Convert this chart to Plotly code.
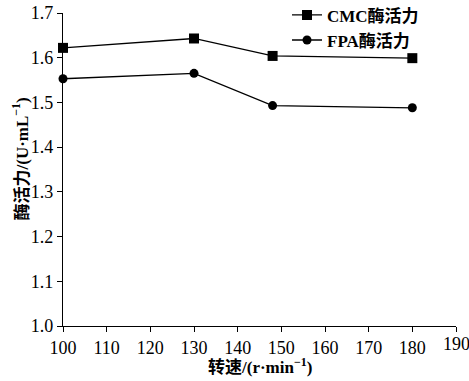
import plotly.graph_objects as go

speed = [100, 130, 148, 180]
cmc = [1.622, 1.643, 1.604, 1.599]
fpa = [1.553, 1.565, 1.493, 1.488]
series_names = ["CMC酶活力", "FPA酶活力"]
x_ticks = list(range(100, 191, 10))
x_tick_labels = [str(v) for v in x_ticks]
y_ticks = [1.0, 1.1, 1.2, 1.3, 1.4, 1.5, 1.6, 1.7]
x_title = "转速/(r·min<sup>−1</sup>)"
y_title = "酶活力/(U·mL<sup>−1</sup>)"

FONT = "Liberation Serif, Noto Sans CJK SC, serif"

fig = go.Figure()
fig.add_trace(go.Scatter(x=speed, y=cmc, name="<b>" + series_names[0] + "</b>", mode="lines+markers",
                         line=dict(color="black", width=1.3),
                         marker=dict(symbol="square", size=10, color="black"),
                         cliponaxis=False))
fig.add_trace(go.Scatter(x=speed, y=fpa, name="<b>" + series_names[1] + "</b>", mode="lines+markers",
                         line=dict(color="black", width=1.3),
                         marker=dict(symbol="circle", size=9, color="black"),
                         cliponaxis=False))

axis_common = dict(showline=True, linecolor="black", linewidth=1.3, ticks="outside",
                   ticklen=5, tickwidth=1.3, tickcolor="black", showgrid=False, zeroline=False,
                   tickfont=dict(family=FONT, size=18, color="black"), automargin=False)

# last x tick label drawn as annotation (it sits at the page edge)
x_ticktext = x_tick_labels[:-1] + [""]

fig.update_layout(
    width=469, height=381,
    margin=dict(l=63, r=13, t=13, b=55, autoexpand=False),
    paper_bgcolor="white", plot_bgcolor="white",
    font=dict(family=FONT, color="black"),
    showlegend=True,
    legend=dict(x=0.57, y=1.05, xanchor="left", yanchor="top", bgcolor="rgba(0,0,0,0)",
                font=dict(family=FONT, size=17, color="black"), itemwidth=30,
                tracegroupgap=0),
    xaxis=dict(range=[100, 190], tickvals=x_ticks, ticktext=x_ticktext, **axis_common),
    yaxis=dict(range=[1.0, 1.7], tickvals=y_ticks, tickformat=".1f", **axis_common),
)

fig.add_annotation(x=x_ticks[-1], xref="x", y=0, yref="paper", text=x_tick_labels[-1],
                   showarrow=False, yanchor="top", yshift=-6,
                   font=dict(family=FONT, size=18, color="black"))
fig.add_annotation(x=0.5, xref="paper", y=0, yref="paper", text="<b>" + x_title + "</b>",
                   showarrow=False, yanchor="middle", yshift=-40,
                   font=dict(family=FONT, size=17, color="black"))
fig.add_annotation(x=0, xref="paper", y=0.5, yref="paper", text="<b>" + y_title + "</b>",
                   showarrow=False, textangle=-90, xanchor="center", yanchor="middle",
                   xshift=-43, yshift=10,
                   font=dict(family=FONT, size=17, color="black"))

fig.write_html("out.html", config={"displayModeBar": False},
               post_script="document.body.style.margin='0';document.body.style.padding='0';")
